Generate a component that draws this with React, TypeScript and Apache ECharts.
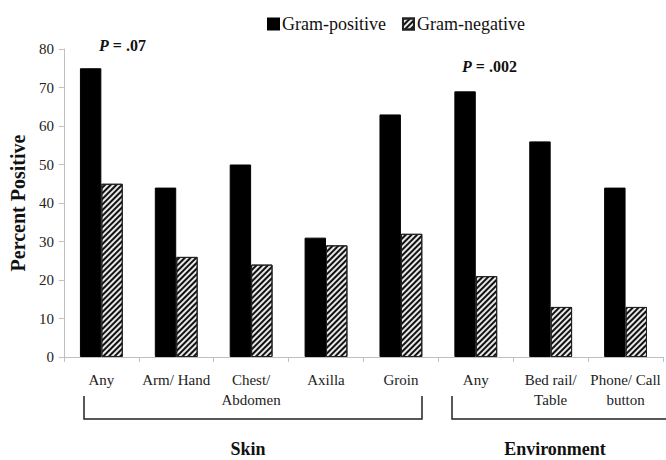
import React, { useEffect, useRef } from "react";
import * as echarts from "echarts";

const categories = [
  "Any",
  "Arm/ Hand",
  "Chest/\nAbdomen",
  "Axilla",
  "Groin",
  "Any",
  "Bed rail/\nTable",
  "Phone/ Call\nbutton",
];
const gramPositive = [75, 44, 50, 31, 63, 69, 56, 44];
const gramNegative = [45, 26, 24, 29, 32, 21, 13, 13];
const yTicks = { min: 0, max: 80, interval: 10 };
const groupLabels = ["Skin", "Environment"];
const pValues = ["= .07", "= .002"];

const SERIF = "'Liberation Serif', 'Times New Roman', serif";

export default function App() {
  const ref = useRef<HTMLDivElement>(null);
  useEffect(() => {
    if (!ref.current) return;
    const chart = echarts.init(ref.current, undefined, { renderer: "svg" });
    chart.setOption({
      animation: false,
      backgroundColor: "#fff",
      legend: {
        top: 10,
        left: 262,
        itemWidth: 11,
        itemHeight: 11,
        itemGap: 16,
        icon: "rect",
        textStyle: { fontFamily: SERIF, fontSize: 18, color: "#111", padding: [0, 0, 0, -2] },
        data: ["Gram-positive", "Gram-negative"],
      },
      grid: { left: 63, right: 3, top: 49, bottom: 103 },
      xAxis: {
        type: "category",
        data: categories,
        axisLine: { lineStyle: { color: "#bfbfbf", width: 1 } },
        axisTick: { show: true, length: 5, lineStyle: { color: "#bfbfbf" } },
        axisLabel: {
          fontFamily: SERIF,
          fontSize: 15,
          color: "#222",
          margin: 13,
          lineHeight: 20,
          interval: 0,
        },
      },
      yAxis: {
        type: "value",
        min: yTicks.min,
        max: yTicks.max,
        interval: yTicks.interval,
        name: "Percent Positive",
        nameLocation: "middle",
        nameGap: 33,
        nameTextStyle: {
          fontFamily: SERIF,
          fontSize: 20,
          fontWeight: "bold",
          color: "#111",
        },
        axisLine: { show: true, lineStyle: { color: "#bfbfbf", width: 1 } },
        axisTick: { show: true, length: 5, lineStyle: { color: "#bfbfbf" } },
        splitLine: { show: false },
        axisLabel: {
          fontFamily: SERIF,
          fontSize: 15,
          color: "#222",
          margin: 10,
        },
      },
      series: [
        {
          name: "Gram-positive",
          type: "bar",
          data: gramPositive,
          barWidth: "28.6%",
          barGap: "0%",
          itemStyle: { color: "#000", borderColor: "#000", borderWidth: 1 },
        },
        {
          name: "Gram-negative",
          type: "bar",
          data: gramNegative,
          barWidth: "28.6%",
          itemStyle: {
            color: "#e8e8e8",
            borderColor: "#222",
            borderWidth: 1,
            decal: {
              symbol: "rect",
              color: "#111",
              dashArrayX: [1, 0],
              dashArrayY: [1.4, 1.4],
              rotation: -Math.PI / 4,
              symbolSize: 1,
            },
          },
        },
      ],
      graphic: [
        {
          type: "text",
          left: 99,
          top: 37,
          style: {
            text: "{i|P} " + pValues[0],
            fontFamily: SERIF,
            fontSize: 16,
            fontWeight: "bold",
            fill: "#111",
            rich: {
              i: { fontFamily: SERIF, fontSize: 16, fontWeight: "bold", fontStyle: "italic", fill: "#111" },
            },
          },
        },
        {
          type: "text",
          left: 462,
          top: 58,
          style: {
            text: "{i|P} " + pValues[1],
            fontFamily: SERIF,
            fontSize: 16,
            fontWeight: "bold",
            fill: "#111",
            rich: {
              i: { fontFamily: SERIF, fontSize: 16, fontWeight: "bold", fontStyle: "italic", fill: "#111" },
            },
          },
        },
        {
          type: "polyline",
          shape: { points: [[84, 396], [84, 419], [422, 419], [422, 396]] },
          style: { stroke: "#222", lineWidth: 1.5, fill: "none" },
        },
        {
          type: "polyline",
          shape: { points: [[452, 396], [452, 419], [666, 419]] },
          style: { stroke: "#222", lineWidth: 1.5, fill: "none" },
        },
        {
          type: "text",
          x: 248,
          y: 449,
          style: {
            text: groupLabels[0],
            fontFamily: SERIF,
            fontSize: 18,
            fontWeight: "bold",
            fill: "#111",
            textAlign: "center",
            textVerticalAlign: "middle",
          },
        },
        {
          type: "text",
          x: 555,
          y: 449,
          style: {
            text: groupLabels[1],
            fontFamily: SERIF,
            fontSize: 18,
            fontWeight: "bold",
            fill: "#111",
            textAlign: "center",
            textVerticalAlign: "middle",
          },
        },
      ],
    });
    return () => chart.dispose();
  }, []);
  return <div ref={ref} style={{ width: 666, height: 460, position: "absolute", left: 0, top: 0 }} />;
}
